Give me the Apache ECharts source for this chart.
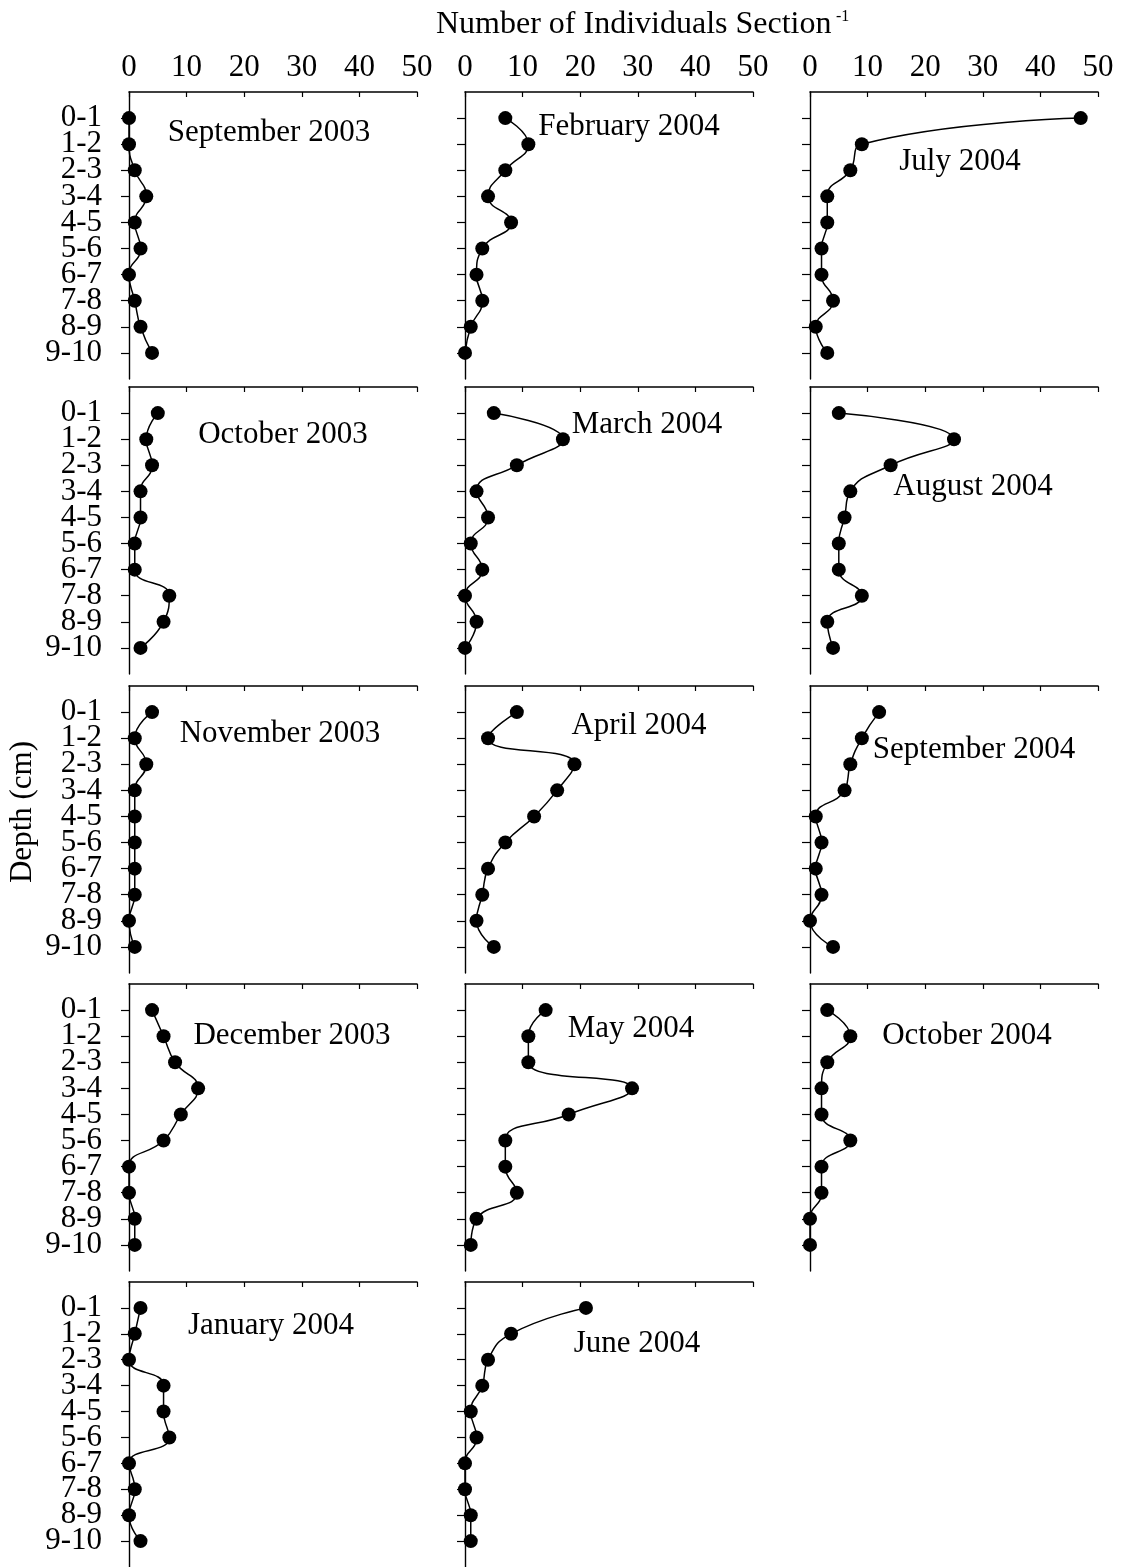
<!DOCTYPE html>
<html>
<head>
<meta charset="utf-8">
<script src="https://cdn.jsdelivr.net/npm/echarts@6/dist/echarts.min.js"></script>
<style>
html,body{margin:0;padding:0;background:#fff;}
#chart{width:1122px;height:1567px;}
</style>
</head>
<body>
<div id="chart"></div>
<script>
// ---- data ----
const categories = ['0-1','1-2','2-3','3-4','4-5','5-6','6-7','7-8','8-9','9-10'];
const xTickValues = [0, 10, 20, 30, 40, 50];

const sep2003 = [0, 0, 1, 3, 1, 2, 0, 1, 2, 4];
const oct2003 = [5, 3, 4, 2, 2, 1, 1, 7, 6, 2];
const nov2003 = [4, 1, 3, 1, 1, 1, 1, 1, 0, 1];
const dec2003 = [4, 6, 8, 12, 9, 6, 0, 0, 1, 1];
const jan2004 = [2, 1, 0, 6, 6, 7, 0, 1, 0, 2];
const feb2004 = [7, 11, 7, 4, 8, 3, 2, 3, 1, 0];
const mar2004 = [5, 17, 9, 2, 4, 1, 3, 0, 2, 0];
const apr2004 = [9, 4, 19, 16, 12, 7, 4, 3, 2, 5];
const may2004 = [14, 11, 11, 29, 18, 7, 7, 9, 2, 1];
const jun2004 = [21, 8, 4, 3, 1, 2, 0, 0, 1, 1];
const jul2004 = [47, 9, 7, 3, 3, 2, 2, 4, 1, 3];
const aug2004 = [5, 25, 14, 7, 6, 5, 5, 9, 3, 4];
const sep2004 = [12, 9, 7, 6, 1, 2, 1, 2, 0, 4];
const oct2004 = [3, 7, 3, 2, 2, 7, 2, 2, 0, 0];

const panelNames = ['September 2003','October 2003','November 2003','December 2003','January 2004',
  'February 2004','March 2004','April 2004','May 2004','June 2004',
  'July 2004','August 2004','September 2004','October 2004'];
const panelSeries = [sep2003, oct2003, nov2003, dec2003, jan2004,
  feb2004, mar2004, apr2004, may2004, jun2004,
  jul2004, aug2004, sep2004, oct2004];

const xAxisTitle = 'Number of Individuals Section';
const xAxisTitleSup = '-1';
const yAxisTitle = 'Depth (cm)';

// ---- layout (styles) ----
const FONT = "'Liberation Serif', 'Times New Roman', serif";
const colLeft = [129, 465, 810];
const rowTop = [92, 387, 686, 984, 1282];
const gw = 288, gh = 287;
const labelPos = [
  [269, 133], [283, 435], [280, 734], [292, 1036], [271, 1326],
  [629, 127], [647, 425], [639, 726], [631, 1029], [637, 1344],
  [960, 162], [973, 487], [974, 750], [967, 1036]
];

const yCats = [''].concat(categories).concat(['']);

const grids = [], xAxes = [], yAxes = [], series = [], graphics = [];
panelSeries.forEach(function (vals, i) {
  const col = Math.floor(i / 5), row = i % 5;
  grids.push({ left: colLeft[col], top: rowTop[row], width: gw, height: gh });
  xAxes.push({
    type: 'value', gridIndex: i, position: 'top',
    min: xTickValues[0], max: xTickValues[xTickValues.length - 1],
    interval: xTickValues[1] - xTickValues[0],
    splitLine: { show: false },
    axisLine: { show: true, lineStyle: { color: '#000', width: 1.6 } },
    axisTick: { show: true, inside: true, length: 5, lineStyle: { color: '#000', width: 1.2 } },
    axisLabel: { show: row === 0, color: '#000', fontSize: 31, fontFamily: FONT, margin: 9 }
  });
  yAxes.push({
    type: 'category', gridIndex: i, inverse: true, boundaryGap: false,
    data: yCats,
    axisLine: { show: true, lineStyle: { color: '#000', width: 1.4 } },
    axisTick: { show: true, inside: false, length: 8,
      interval: function (idx, v) { return v !== ''; },
      lineStyle: { color: '#000', width: 1.2 } },
    axisLabel: { show: col === 0, interval: 0, color: '#000', fontSize: 31, fontFamily: FONT, margin: 27 },
    splitLine: { show: false }
  });
  series.push({
    type: 'line', xAxisIndex: i, yAxisIndex: i,
    data: vals.map(function (v, k) { return [v, categories[k]]; }),
    smooth: 0.5, clip: false,
    symbol: 'circle', symbolSize: 14,
    itemStyle: { color: '#000' },
    lineStyle: { color: '#000', width: 1.5 },
    silent: true, animation: false
  });
  graphics.push({
    type: 'text', x: labelPos[i][0], y: labelPos[i][1],
    style: { text: panelNames[i], font: '31px ' + FONT, fill: '#000', align: 'center', verticalAlign: 'middle' }
  });
});

graphics.push({
  type: 'text', x: 436, y: 25,
  style: { text: xAxisTitle, font: '32px ' + FONT, fill: '#000', align: 'left', verticalAlign: 'middle' }
});
graphics.push({
  type: 'text', x: 836, y: 17,
  style: { text: xAxisTitleSup, font: '16px ' + FONT, fill: '#000', align: 'left', verticalAlign: 'middle' }
});
graphics.push({
  type: 'text', x: 23, y: 812, rotation: Math.PI / 2,
  style: { text: yAxisTitle, font: '31px ' + FONT, fill: '#000', align: 'center', verticalAlign: 'middle' }
});

const chart = echarts.init(document.getElementById('chart'), null, { renderer: 'canvas' });
chart.setOption({
  backgroundColor: '#fff',
  animation: false,
  grid: grids,
  xAxis: xAxes,
  yAxis: yAxes,
  series: series,
  graphic: graphics
});
</script>
</body>
</html>
